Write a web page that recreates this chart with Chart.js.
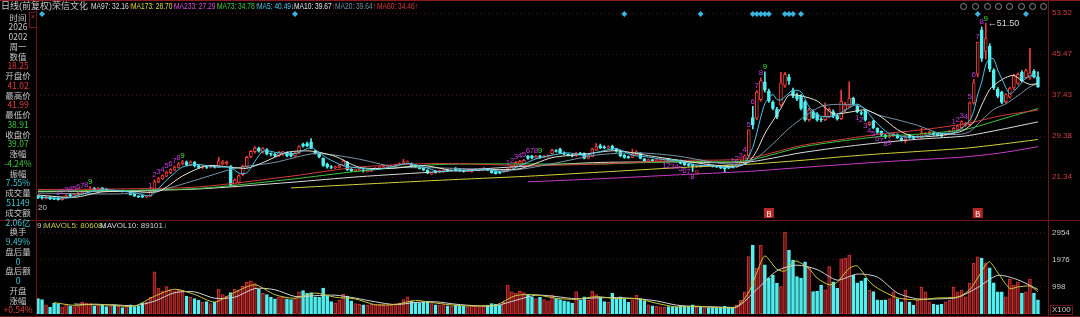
<!DOCTYPE html>
<html><head><meta charset="utf-8">
<script src="https://cdn.jsdelivr.net/npm/chart.js@4.4.1/dist/chart.umd.min.js"></script>
<style>
html,body{margin:0;padding:0;background:#000;width:1080px;height:317px;overflow:hidden;}
#wrap{position:relative;width:1080px;height:317px;}
canvas{position:absolute;left:0;}
#cPrice{top:0;}
#cVol{top:220px;}
.t{position:absolute;white-space:nowrap;font-family:"Liberation Sans","Noto Sans CJK SC",sans-serif;line-height:1;}
.h{top:2px;font-size:9px;transform-origin:0 0;}
.p{left:0;width:36px;text-align:center;font-size:8.5px;font-family:"Noto Sans CJK SC","Liberation Sans",sans-serif;}
.ln{position:absolute;background:#6e1616;}
.ic{position:absolute;top:3px;width:7px;height:7px;border:1px solid #8c8c8c;border-radius:50%;box-sizing:border-box;}
</style></head>
<body><div id="wrap">
<canvas id="cPrice" width="1080" height="220"></canvas>
<canvas id="cVol" width="1080" height="97"></canvas>
<div id="overlay"></div>
</div>
<script>
// ---------------- data ----------------
const opens = [17.6,17.4,17.1,17.4,17.1,17.2,16.9,17.3,17.9,17.6,17.9,18.1,18.4,18.7,19.1,18.8,19.2,19.0,18.6,18.7,
18.6,18.7,18.5,18.6,18.0,17.6,17.7,17.4,17.6,18.5,20.4,21.0,21.5,22.2,22.7,23.2,23.9,24.3,23.7,24.2,
23.6,23.2,23.4,23.2,23.4,23.3,23.9,23.9,23.4,19.6,20.3,21.8,23.4,25.3,26.3,27.0,26.2,26.7,26.0,25.8,
25.5,25.8,26.2,26.0,25.5,26.0,27.8,27.9,28.2,26.4,26.0,25.0,23.9,23.4,23.2,23.2,23.6,24.2,22.9,22.6,
22.6,22.7,22.4,22.5,22.9,23.0,23.1,23.3,23.3,23.5,23.7,23.9,24.1,24.0,23.6,23.4,23.1,22.7,21.9,22.4,
22.3,22.4,22.7,22.6,23.1,22.8,22.6,22.5,22.4,22.8,22.8,22.8,22.9,22.6,22.4,22.3,22.4,22.5,22.8,23.4,
23.9,24.0,25.4,25.5,25.1,25.5,25.2,25.4,25.9,26.5,26.8,26.1,25.8,25.6,25.5,26.0,26.0,25.0,25.4,26.6,
27.5,27.2,27.1,27.4,26.9,26.4,25.6,25.3,25.2,25.7,26.0,24.9,24.6,24.7,24.6,24.7,24.8,24.8,24.6,24.6,
24.6,24.2,23.9,23.8,23.3,23.6,23.5,23.7,23.6,23.4,23.5,23.2,23.3,23.5,23.3,23.8,24.4,25.5,33.0,32.9,
36.5,40.0,38.2,36.0,34.6,35.5,39.3,41.0,38.3,37.4,37.2,36.0,32.6,34.2,33.7,32.7,32.6,33.2,34.2,33.4,
32.8,34.5,35.2,36.8,35.2,34.0,34.5,31.6,32.3,30.9,30.3,29.5,29.2,29.4,29.6,29.0,28.6,29.5,29.3,29.2,
29.3,29.8,29.7,30.0,29.7,29.7,29.7,29.8,30.2,30.7,31.0,31.5,31.6,35.9,41.5,50.2,46.0,47.0,42.3,38.6,
38.0,36.1,37.0,38.8,39.7,41.9,40.8,40.8,42.1,41.02];
const highs = [17.8,17.6,17.6,17.5,17.3,17.3,17.4,17.9,18.0,18.1,18.4,18.6,18.9,19.5,19.3,19.3,19.3,19.1,18.8,18.8,
18.8,18.8,18.7,18.7,18.1,17.7,17.8,17.7,18.6,20.8,21.3,21.8,22.5,23.0,23.5,24.2,24.6,24.5,24.5,24.4,
23.8,23.6,23.6,23.6,23.5,25.2,24.6,24.5,23.6,21.0,21.8,23.7,25.4,26.6,27.3,27.2,27.1,26.9,26.1,26.0,
26.4,26.4,26.3,26.2,26.3,27.5,28.0,28.2,28.9,26.6,26.1,25.1,24.1,23.6,23.5,23.8,24.7,24.4,23.0,22.9,
23.0,22.9,22.8,23.0,23.2,23.4,23.5,23.6,23.7,23.9,24.1,24.8,24.5,24.1,23.7,23.5,23.2,22.8,22.2,22.6,
22.7,22.8,22.8,22.9,23.2,22.9,22.7,22.7,22.9,23.0,23.0,23.2,23.0,22.7,22.5,22.4,22.8,23.1,23.5,24.4,
24.6,24.8,25.6,25.6,25.6,25.6,25.6,25.7,26.8,26.7,27.0,26.3,25.9,25.8,26.2,26.2,26.1,25.7,27.0,27.9,
27.8,27.5,27.5,27.6,27.0,26.5,25.8,25.5,26.8,26.5,26.1,25.0,24.9,24.8,24.9,25.0,25.0,25.0,24.7,24.7,
24.7,24.3,24.0,23.9,23.7,23.7,23.8,23.9,23.7,23.5,23.6,23.3,23.4,23.6,23.9,24.6,25.7,30.6,35.2,38.3,
40.8,42.0,38.6,36.3,35.0,41.9,41.9,41.5,38.8,37.8,37.5,36.3,34.8,34.5,34.0,33.0,35.9,34.9,34.5,33.6,
38.4,36.0,40.0,37.0,35.5,34.3,34.6,32.2,32.5,31.0,30.4,29.7,29.7,30.0,29.8,29.1,29.5,29.7,29.4,29.5,
30.9,30.1,30.3,30.2,29.9,29.8,30.0,30.5,31.1,31.6,32.4,32.1,36.1,40.5,47.8,50.8,51.5,47.5,42.6,38.9,
38.2,37.7,39.0,41.5,41.8,42.2,42.5,46.6,42.4,41.99];
const lows = [17.1,17.0,17.0,16.9,16.9,16.8,16.8,17.2,17.5,17.5,17.8,18.0,18.3,18.6,18.7,18.7,18.6,18.5,18.5,18.5,
18.5,18.4,18.4,17.8,17.5,17.3,17.3,17.3,17.5,18.4,20.2,20.9,21.4,22.0,22.6,23.1,23.7,23.5,23.6,23.3,
23.0,23.0,23.0,23.1,23.1,23.2,23.8,23.7,19.5,19.4,20.1,21.6,23.2,25.1,26.0,26.2,26.0,25.7,25.5,25.3,
25.4,25.6,25.3,25.3,25.4,25.9,27.2,27.3,26.9,25.8,25.1,23.4,23.1,23.0,23.0,23.1,23.5,22.6,22.4,22.4,
22.5,22.3,22.3,22.4,22.8,22.9,23.0,23.2,23.2,23.4,23.6,23.8,24.0,23.4,23.2,22.9,22.6,22.0,21.8,22.1,
22.2,22.3,22.5,22.5,22.5,22.5,22.3,22.4,22.3,22.7,22.7,22.7,22.6,22.1,21.9,22.0,22.3,22.4,22.7,23.3,
23.8,23.9,24.8,24.9,25.0,25.0,25.1,25.2,25.8,26.2,25.9,25.7,25.5,25.3,25.4,25.7,24.9,24.9,25.3,26.5,
26.9,26.9,26.9,26.7,26.2,25.3,25.0,25.0,25.1,25.6,24.9,24.4,24.4,24.4,24.5,24.6,24.6,24.5,24.4,24.3,
23.9,23.6,23.4,22.4,23.2,23.3,23.4,23.5,23.3,23.2,23.0,22.3,23.0,23.1,23.2,23.7,24.3,25.3,30.8,32.6,
36.2,38.0,36.0,34.5,32.8,35.2,38.9,39.5,36.9,36.3,34.5,32.3,32.3,32.8,32.3,32.2,32.4,33.0,33.0,32.5,
32.6,34.0,35.0,35.4,33.9,33.5,32.3,31.4,30.8,29.9,29.4,28.9,29.0,29.3,28.9,28.4,28.0,28.9,28.7,29.0,
28.9,29.6,29.6,29.5,29.4,29.2,29.5,29.7,30.1,30.5,30.8,31.3,31.4,35.6,41.0,44.0,44.5,42.0,38.5,36.9,
35.7,35.9,36.8,38.5,39.5,40.0,40.6,40.5,40.8,38.91];
const closes = [17.3,17.2,17.4,17.1,17.0,16.9,17.3,17.7,17.6,18.0,18.2,18.5,18.7,18.9,18.8,19.1,18.7,18.6,18.7,18.6,
18.7,18.6,18.6,17.9,17.6,17.5,17.4,17.6,18.4,20.4,21.0,21.6,22.2,22.8,23.3,23.9,24.3,23.7,24.3,23.5,
23.2,23.4,23.2,23.4,23.3,24.5,24.3,24.2,19.7,20.8,21.6,23.5,25.2,26.4,27.0,26.4,26.9,25.9,25.8,25.5,
26.2,26.3,25.5,25.5,26.1,27.3,27.4,27.5,27.0,26.0,25.3,23.6,23.3,23.2,23.3,23.6,24.5,22.8,22.6,22.8,
22.8,22.5,22.6,22.9,23.1,23.3,23.4,23.4,23.5,23.8,24.0,24.3,24.3,23.5,23.3,23.0,22.7,22.1,22.1,22.3,
22.6,22.7,22.6,22.8,22.6,22.6,22.5,22.6,22.8,22.9,22.9,23.1,22.7,22.2,22.0,22.1,22.7,23.0,23.4,24.2,
24.4,24.6,25.0,25.1,25.4,25.2,25.4,25.5,26.6,26.4,26.0,25.8,25.6,25.5,26.0,25.9,25.0,25.5,26.8,27.3,
27.1,27.1,27.2,26.8,26.4,25.5,25.2,25.2,25.8,26.3,25.0,24.5,24.7,24.6,24.7,24.8,24.9,24.7,24.5,24.5,
24.0,23.7,23.6,23.4,23.6,23.5,23.7,23.6,23.4,23.3,23.1,23.0,23.1,23.2,23.8,24.4,25.5,30.6,31.6,38.0,
40.2,38.4,36.3,34.8,33.1,39.8,41.5,40.2,37.2,36.6,34.8,32.6,34.5,33.0,32.5,32.6,33.3,34.6,33.3,32.7,
36.2,35.5,36.8,35.7,34.1,33.8,32.5,32.0,31.0,30.1,29.6,29.2,29.5,29.8,29.0,28.5,29.2,29.1,28.9,29.3,
30.0,29.9,30.1,29.7,29.6,29.4,29.8,30.3,30.9,31.4,32.2,31.9,35.9,39.8,47.8,44.6,48.5,42.5,38.8,37.2,
36.0,37.5,38.8,41.2,41.5,40.2,42.2,41.8,41.0,39.07];
// volume, x100 shares
const volumes = [560,520,330,250,400,380,260,360,300,270,290,430,390,380,300,330,330,270,290,330,
280,230,320,330,270,280,390,420,600,1530,940,840,990,880,840,860,870,650,600,560,
500,420,450,380,420,900,700,650,780,900,850,1000,1150,1200,1100,900,750,700,600,550,
620,600,550,520,560,800,850,750,780,620,600,940,650,450,400,500,720,650,480,380,
350,330,320,350,330,360,340,320,330,380,400,520,620,480,420,400,420,460,380,330,
320,340,300,280,330,300,280,260,320,280,260,300,320,380,350,320,420,1050,800,760,
820,780,700,620,560,600,520,480,690,560,520,480,450,400,810,500,620,500,835,700,
600,450,420,760,560,620,540,420,520,690,560,480,330,300,280,260,250,270,240,260,
300,280,250,330,260,240,220,230,250,220,240,280,260,250,330,500,800,2080,2500,1660,
2500,1780,1300,1410,1120,990,2970,2320,1958,1353,1300,1890,1700,810,830,1050,880,1720,1170,935,
2000,2030,2140,1410,1130,1200,1300,870,810,510,500,510,560,800,560,440,870,440,320,500,
980,800,440,360,330,360,440,500,980,800,870,620,1120,1850,2070,2030,1850,1670,1130,800,
800,620,1270,1050,1170,760,800,1270,760,511];

const priceTicks = [21.34, 29.38, 37.43, 45.47, 53.52];
const volTicks = [998, 1976, 2954];

// moving averages (index, value)
const ma5Idx = [0,4,8,12,16,20,24,28,32,36,40,44,48,50,52,56,60,64,68,72,76,80,84,88,92,96,100,104,108,112,116,120,124,128,132,136,140,144,148,152,156,160,164,168,172,176,177,178,179,180,181,182,183,184,185,186,188,190,192,194,196,198,200,202,204,206,208,210,212,216,220,224,228,230,232,233,234,235,236,237,238,239,240,242,244,246,248,249];
const ma5 = [17.5,17.2,17.3,18.2,18.84,18.66,18.28,17.7,20.72,23.3,23.8,23.3,23.2,22.12,22.16,26.38,26.06,25.92,27.06,25.04,23.58,23.1,22.78,23.34,23.98,23.36,22.36,22.66,22.62,22.88,22.34,23.54,24.9,25.62,26.08,25.6,26.34,26.92,25.62,25.26,24.74,24.52,23.66,23.56,23.18,24.0,25.5,27.18,30.02,33.18,35.76,36.9,37.54,36.56,36.48,37.1,38.36,38.06,35.14,33.48,33.18,33.26,34.02,34.9,35.66,34.58,32.68,31.04,29.88,29.2,29.3,29.86,30.0,30.92,32.46,34.24,37.52,40.0,43.32,44.64,44.44,42.32,40.6,37.66,39.0,40.78,41.34,40.49];
const ma10Idx = [0,9,16,24,30,36,42,48,52,56,62,68,74,80,88,96,104,112,120,128,136,144,152,160,168,174,177,179,181,183,185,187,190,194,198,202,206,210,214,218,224,230,233,235,237,239,241,243,245,247,249];
const ma10 = [17.8,17.35,18.42,18.51,18.5,21.55,23.56,23.27,23.05,24.17,26.19,26.43,25.39,23.25,23.03,23.58,22.55,22.75,22.98,25.14,25.83,26.51,25.54,24.59,23.7,23.37,24.34,26.53,29.88,32.36,34.83,37.39,37.27,36.27,33.78,34.05,34.52,33.11,30.65,29.29,29.43,30.33,32.12,35.46,38.55,39.92,40.86,41.29,40.22,39.52,39.67];
const ma20Idx = [0,19,29,39,49,59,69,79,89,99,109,119,129,139,149,159,169,175,179,183,187,191,195,199,204,209,214,219,224,229,232,235,238,241,244,247,249];
const ma20 = [18.2,18.02,18.48,20.67,23.03,24.21,25.95,24.99,23.32,23.15,22.92,22.75,24.1,25.65,26.1,25.48,24.14,23.75,25.1,27.86,30.87,33.29,35.19,35.6,35.38,33.58,32.57,31.49,30.04,29.66,30.25,32.49,34.62,35.7,37.3,39.04,39.64];
const longIdx = [0,20,40,63,80,100,122,140,160,176,190,200,210,220,231,240,249];
const ma60 = [18.9,19.0,19.4,21.5,23.3,24.0,23.6,23.9,24.6,24.9,27.5,28.7,29.8,30.6,31.8,33.4,34.46];
const ma73 = [18.6,18.7,19.1,20.9,22.5,23.8,23.9,23.9,24.4,24.5,27.2,28.4,29.3,29.8,30.7,32.7,34.78];
const ma97 = [18.5,18.6,19.0,20.3,21.4,22.4,23.5,24.2,24.3,24.2,26.1,27.2,28.1,28.8,29.4,30.7,32.16];
const ma173Idx = [63,80,100,122,140,160,176,190,200,210,220,231,240,249];
const ma173 = [19.2,19.9,20.7,21.5,22.3,23.2,23.8,24.6,25.3,25.9,26.4,27.0,27.8,28.70];
const ma233Idx = [122,140,160,176,190,210,231,240,249];
const ma233 = [20.4,21.0,21.8,22.4,23.2,24.3,25.3,26.1,27.29];

const mavol5Idx = [4,9,14,19,24,29,34,39,44,49,54,59,64,69,74,79,84,89,94,99,104,109,114,119,124,129,134,139,144,149,154,159,164,169,174,177,179,181,184,186,188,189,192,194,197,199,202,204,207,209,214,219,224,229,232,234,236,237,239,242,244,247,249];
const mavol5 = [412,314,358,310,286,644,898,708,434,786,1060,700,570,760,608,546,336,346,488,398,314,288,322,670,696,570,532,631,558,558,390,256,284,232,272,792,1508,2104,1622,1558,1872,1918,1640,1306,1058,1151,1655,1742,1182,938,586,514,582,616,878,1306,1784,1894,1496,924,982,1010,806];
const mavol10Idx = [9,14,19,24,29,34,39,44,49,54,59,64,69,74,79,84,89,94,99,104,109,114,119,124,129,134,139,144,149,154,159,164,169,174,179,184,189,194,199,204,209,214,219,224,229,234,239,244,249];
const mavol10 = [363,336,334,298,465,771,803,571,610,923,880,635,665,684,577,441,341,417,443,356,301,305,496,683,633,551,582,595,558,474,323,270,258,252,890,1565,1770,1612,1229,1447,1340,762,550,548,599,961,1401,1239,891];

// TD sequence counts (start index of each 1..9 run)
const tdUpStarts = [5, 28, 117, 173, 228];
const tdDnStarts = [156, 204];
const diamondIdx = [1,64,146,165,178,179,180,181,182,186,187,188,190,234,246];
const signalIdx = [182, 234];
const peakIdx = 236;

// ---------------- build ----------------
const N = closes.length;
const SLOTS = N + 2;
const labels = Array.from({length: SLOTS}, (_, i) => String(i));
const UP = '#f03c3c', DN = '#52f0f0';
const up = closes.map((c, i) => c >= opens[i]);
function pad(a){ const r = a.slice(); while (r.length < SLOTS) r.push(null); return r; }
function sparse(idx, vals){ const a = new Array(SLOTS).fill(null); idx.forEach((k, j) => { a[k] = vals[j]; }); return a; }
const wickData = pad(lows.map((l, i) => [l, highs[i]]));
const bodyData = pad(opens.map((o, i) => {
  const c = closes[i]; let lo = Math.min(o, c), hi = Math.max(o, c);
  if (hi - lo < 0.2) { const m = (hi + lo) / 2; lo = m - 0.1; hi = m + 0.1; }
  return [lo, hi];
}));
const colUp = (a, b) => up.map(u => u ? a : b);

Chart.defaults.font.family = '"Liberation Sans", Arial, sans-serif';
Chart.defaults.animation = false;

function lineDs(data, color, order){
  return { type: 'line', data, borderColor: color, borderWidth: 1, pointRadius: 0, spanGaps: true, tension: 0.25, order: order || 0 };
}

const overlayPlugin = {
  id: 'overlayMarks',
  afterDatasetsDraw(chart) {
    const { ctx, scales: { x, y }, chartArea } = chart;
    ctx.save();
    ctx.font = '8px "Liberation Sans", Arial, sans-serif';
    ctx.textAlign = 'center';
    ctx.textBaseline = 'bottom';
    tdUpStarts.forEach(s => {
      for (let k = 0; k < 9; k++) {
        const i = s + k;
        ctx.fillStyle = k === 8 ? '#3ce63c' : '#c83cdc';
        ctx.fillText(String(k + 1), x.getPixelForValue(i), y.getPixelForValue(highs[i]) - 1);
      }
    });
    ctx.textBaseline = 'top';
    tdDnStarts.forEach((s, n) => {
      for (let k = 0; k < 9; k++) {
        const i = s + k;
        ctx.fillStyle = (k === 8 && n === 0) ? '#e04040' : '#c83cdc';
        ctx.fillText(String(k + 1), x.getPixelForValue(i), y.getPixelForValue(lows[i]) + 1);
      }
    });
    // diamonds on the top grid line
    const dy = y.getPixelForValue(priceTicks[priceTicks.length - 1]) + 1;
    ctx.fillStyle = '#3ab4e0';
    diamondIdx.forEach(i => {
      const dx = x.getPixelForValue(i);
      ctx.beginPath(); ctx.moveTo(dx, dy - 3); ctx.lineTo(dx + 3, dy); ctx.lineTo(dx, dy + 3); ctx.lineTo(dx - 3, dy); ctx.closePath(); ctx.fill();
    });
    // peak label
    const px = x.getPixelForValue(peakIdx), py = y.getPixelForValue(highs[peakIdx]);
    ctx.textAlign = 'left'; ctx.textBaseline = 'middle';
    ctx.fillStyle = '#d8d8d8';
    ctx.font = '9px "Liberation Sans", Arial, sans-serif';
    ctx.fillText('\u2190' + highs[peakIdx].toFixed(2), px + 2, py);
    // signal boxes
    ctx.font = '8px "Noto Sans CJK SC", sans-serif';
    ctx.textAlign = 'center';
    signalIdx.forEach(i => {
      const sx = x.getPixelForValue(i), sy = chartArea.bottom - 5;
      ctx.fillStyle = '#b42828'; ctx.fillRect(sx - 5, sy - 5, 10, 10);
      ctx.fillStyle = '#ffffff'; ctx.fillText('B', sx, sy + 0.5);
    });
    ctx.restore();
  }
};

const priceChart = new Chart(document.getElementById('cPrice'), {
  type: 'bar',
  data: {
    labels,
    datasets: [
      lineDs(sparse(ma5Idx, ma5), '#48c8ec', 0),
      lineDs(sparse(ma10Idx, ma10), '#e6e6d2', 0),
      lineDs(sparse(ma20Idx, ma20), '#7896a8', 0),
      lineDs(sparse(longIdx, ma60), '#d23c3c', 0),
      lineDs(sparse(longIdx, ma73), '#3cc83c', 0),
      lineDs(sparse(longIdx, ma97), '#dcdcdc', 0),
      lineDs(sparse(ma173Idx, ma173), '#d2d23c', 0),
      lineDs(sparse(ma233Idx, ma233), '#c83cc8', 0),
      { type: 'bar', data: bodyData, grouped: false, barThickness: 3, order: 1, borderSkipped: false,
        backgroundColor: colUp('#000000', DN), borderColor: colUp(UP, DN), borderWidth: 1 },
      { type: 'bar', data: wickData, grouped: false, barThickness: 1, order: 2, borderSkipped: false,
        backgroundColor: colUp(UP, DN), borderWidth: 0 }
    ]
  },
  options: {
    responsive: false, devicePixelRatio: 1, animation: false, events: [],
    layout: { padding: { left: 36, top: 2, bottom: 2, right: 0 } },
    plugins: { legend: { display: false }, tooltip: { enabled: false } },
    scales: {
      x: { type: 'category', offset: true, display: false, grid: { display: false } },
      y: { position: 'right', min: 13.30, max: 55.68,
        afterBuildTicks: s => { s.ticks = priceTicks.map(v => ({ value: v })); },
        afterFit: s => { s.width = 32; s.paddingTop = 0; s.paddingBottom = 0; },
        ticks: { color: '#d23c3c', font: { size: 8 }, padding: 4, callback: v => Number(v).toFixed(2) },
        grid: { color: '#4a1212', drawTicks: false, lineWidth: 1 },
        border: { display: false, dash: [1, 3] } }
    }
  },
  plugins: [overlayPlugin]
});

const volChart = new Chart(document.getElementById('cVol'), {
  type: 'bar',
  data: {
    labels,
    datasets: [
      lineDs(sparse(mavol5Idx, mavol5), '#c8c83c', 0),
      lineDs(sparse(mavol10Idx, mavol10), '#d2d2d2', 0),
      { type: 'bar', data: pad(volumes), grouped: false, barThickness: 3, order: 1, borderSkipped: false,
        backgroundColor: colUp('#6e1414', DN), borderColor: colUp('#d23232', DN), borderWidth: 1 }
    ]
  },
  options: {
    responsive: false, devicePixelRatio: 1, animation: false, events: [],
    layout: { padding: { left: 36, top: 1, bottom: 3, right: 0 } },
    plugins: { legend: { display: false }, tooltip: { enabled: false } },
    scales: {
      x: { type: 'category', offset: true, display: false, grid: { display: false } },
      y: { position: 'right', min: 0, max: 3371,
        afterBuildTicks: s => { s.ticks = volTicks.map(v => ({ value: v })); },
        afterFit: s => { s.width = 32; s.paddingTop = 0; s.paddingBottom = 0; },
        ticks: { color: '#c8c8c8', font: { size: 8 }, padding: 4, callback: v => String(v) },
        grid: { color: '#4a1212', drawTicks: false, lineWidth: 1 },
        border: { display: false, dash: [1, 3] } }
    }
  }
});

// ---------------- text overlay ----------------
const ov = document.getElementById('overlay');
function add(html, cls, style){ const d = document.createElement('div'); d.className = cls; d.setAttribute('style', style); d.innerHTML = html; ov.appendChild(d); }
function line(l, t, w, h, c){ add('', 'ln', `left:${l}px;top:${t}px;width:${w}px;height:${h}px;` + (c ? `background:${c};` : '')); }
line(0, 0, 1080, 1, '#8c1c1c');
line(36, 0, 1, 317);
line(0, 220, 1080, 1);
line(1048, 0, 1, 317);
line(0, 316, 1080, 1);

const header = [
  ['日线(前复权)', 1, '#c8c8c8', 1],
  ['荣信文化', 52, '#c8c8c8', 1],
  ['MA97: 32.16<span style="color:#e03c3c">↑</span>', 91, '#dcdcdc', 0.74],
  ['MA173: 28.70<span style="color:#e03c3c">↑</span>', 131, '#dcdc3c', 0.74],
  ['MA233: 27.29<span style="color:#e03c3c">↑</span>', 174, '#dc50dc', 0.74],
  ['MA73: 34.78<span style="color:#e03c3c">↑</span>', 217, '#3cd23c', 0.74],
  ['MA5: 40.49<span style="color:#c8c8c8">↓</span>', 257, '#48c8ec', 0.74],
  ['MA10: 39.67<span style="color:#e03c3c">↑</span>', 294, '#e6e6e6', 0.74],
  ['MA20: 39.64<span style="color:#e03c3c">↑</span>', 335, '#6a94a6', 0.74],
  ['MA60: 34.46<span style="color:#e03c3c">↑</span>', 377, '#e03c3c', 0.74]
];
header.forEach(([t, x, c, s]) => add(t, 't h', `left:${x}px;color:${c};transform:scaleX(${s});`));

const panel = [
  ['时间','#c8c8c8'],['2026','#c8c8c8'],['0202','#c8c8c8'],['周一','#c8c8c8'],['数值','#c8c8c8'],['18.25','#e03c3c'],
  ['开盘价','#c8c8c8'],['41.02','#e03c3c'],['最高价','#c8c8c8'],['41.99','#e03c3c'],['最低价','#c8c8c8'],['38.91','#3cc83c'],
  ['收盘价','#c8c8c8'],['39.07','#3cc83c'],['涨幅','#c8c8c8'],['-4.24%','#3cc83c'],['振幅','#c8c8c8'],['7.55%','#3cc8d2'],
  ['成交量','#c8c8c8'],['51149','#3cc8d2'],['成交额','#c8c8c8'],['2.06亿','#3cc8d2'],['换手','#c8c8c8'],['9.49%','#3cc8d2'],
  ['盘后量','#c8c8c8'],['0','#3cc8d2'],['盘后额','#c8c8c8'],['0','#3cc8d2'],['开盘','#c8c8c8'],['涨幅','#c8c8c8'],['+0.54%','#e03c3c']
];
panel.forEach(([t, c], k) => add(t, 't p', `top:${(17.7 + 9.76 * k - 5.2).toFixed(1)}px;color:${c};`));

// close box near the panel edge
add('×', 't', 'left:29px;top:12px;width:6px;height:14px;font-size:7px;color:#c83c3c;border:1px solid #6e1616;text-align:center;');
// toolbar icons
[963, 975, 987, 998, 1009, 1021, 1032, 1043].forEach(x => add('', 'ic', `left:${x - 3}px;`));

add('9<span style="color:#48c8ec">↓</span>', 't', 'left:37px;top:222px;font-size:8px;color:#d2d2d2;');
add('MAVOL5: 80608<span style="color:#48c8ec">↓</span>', 't', 'left:44px;top:222px;font-size:8px;color:#c8c83c;');
add('MAVOL10: 89101<span style="color:#48c8ec">↓</span>', 't', 'left:100px;top:222px;font-size:8px;color:#d2d2d2;');
add('20', 't', 'left:38px;top:204px;font-size:8px;color:#c8c8c8;');
add('X100', 't', 'left:1050px;top:305px;font-size:8px;color:#c8c8c8;border:1px solid #6e1616;padding:0 1px;');
</script>
</body></html>
